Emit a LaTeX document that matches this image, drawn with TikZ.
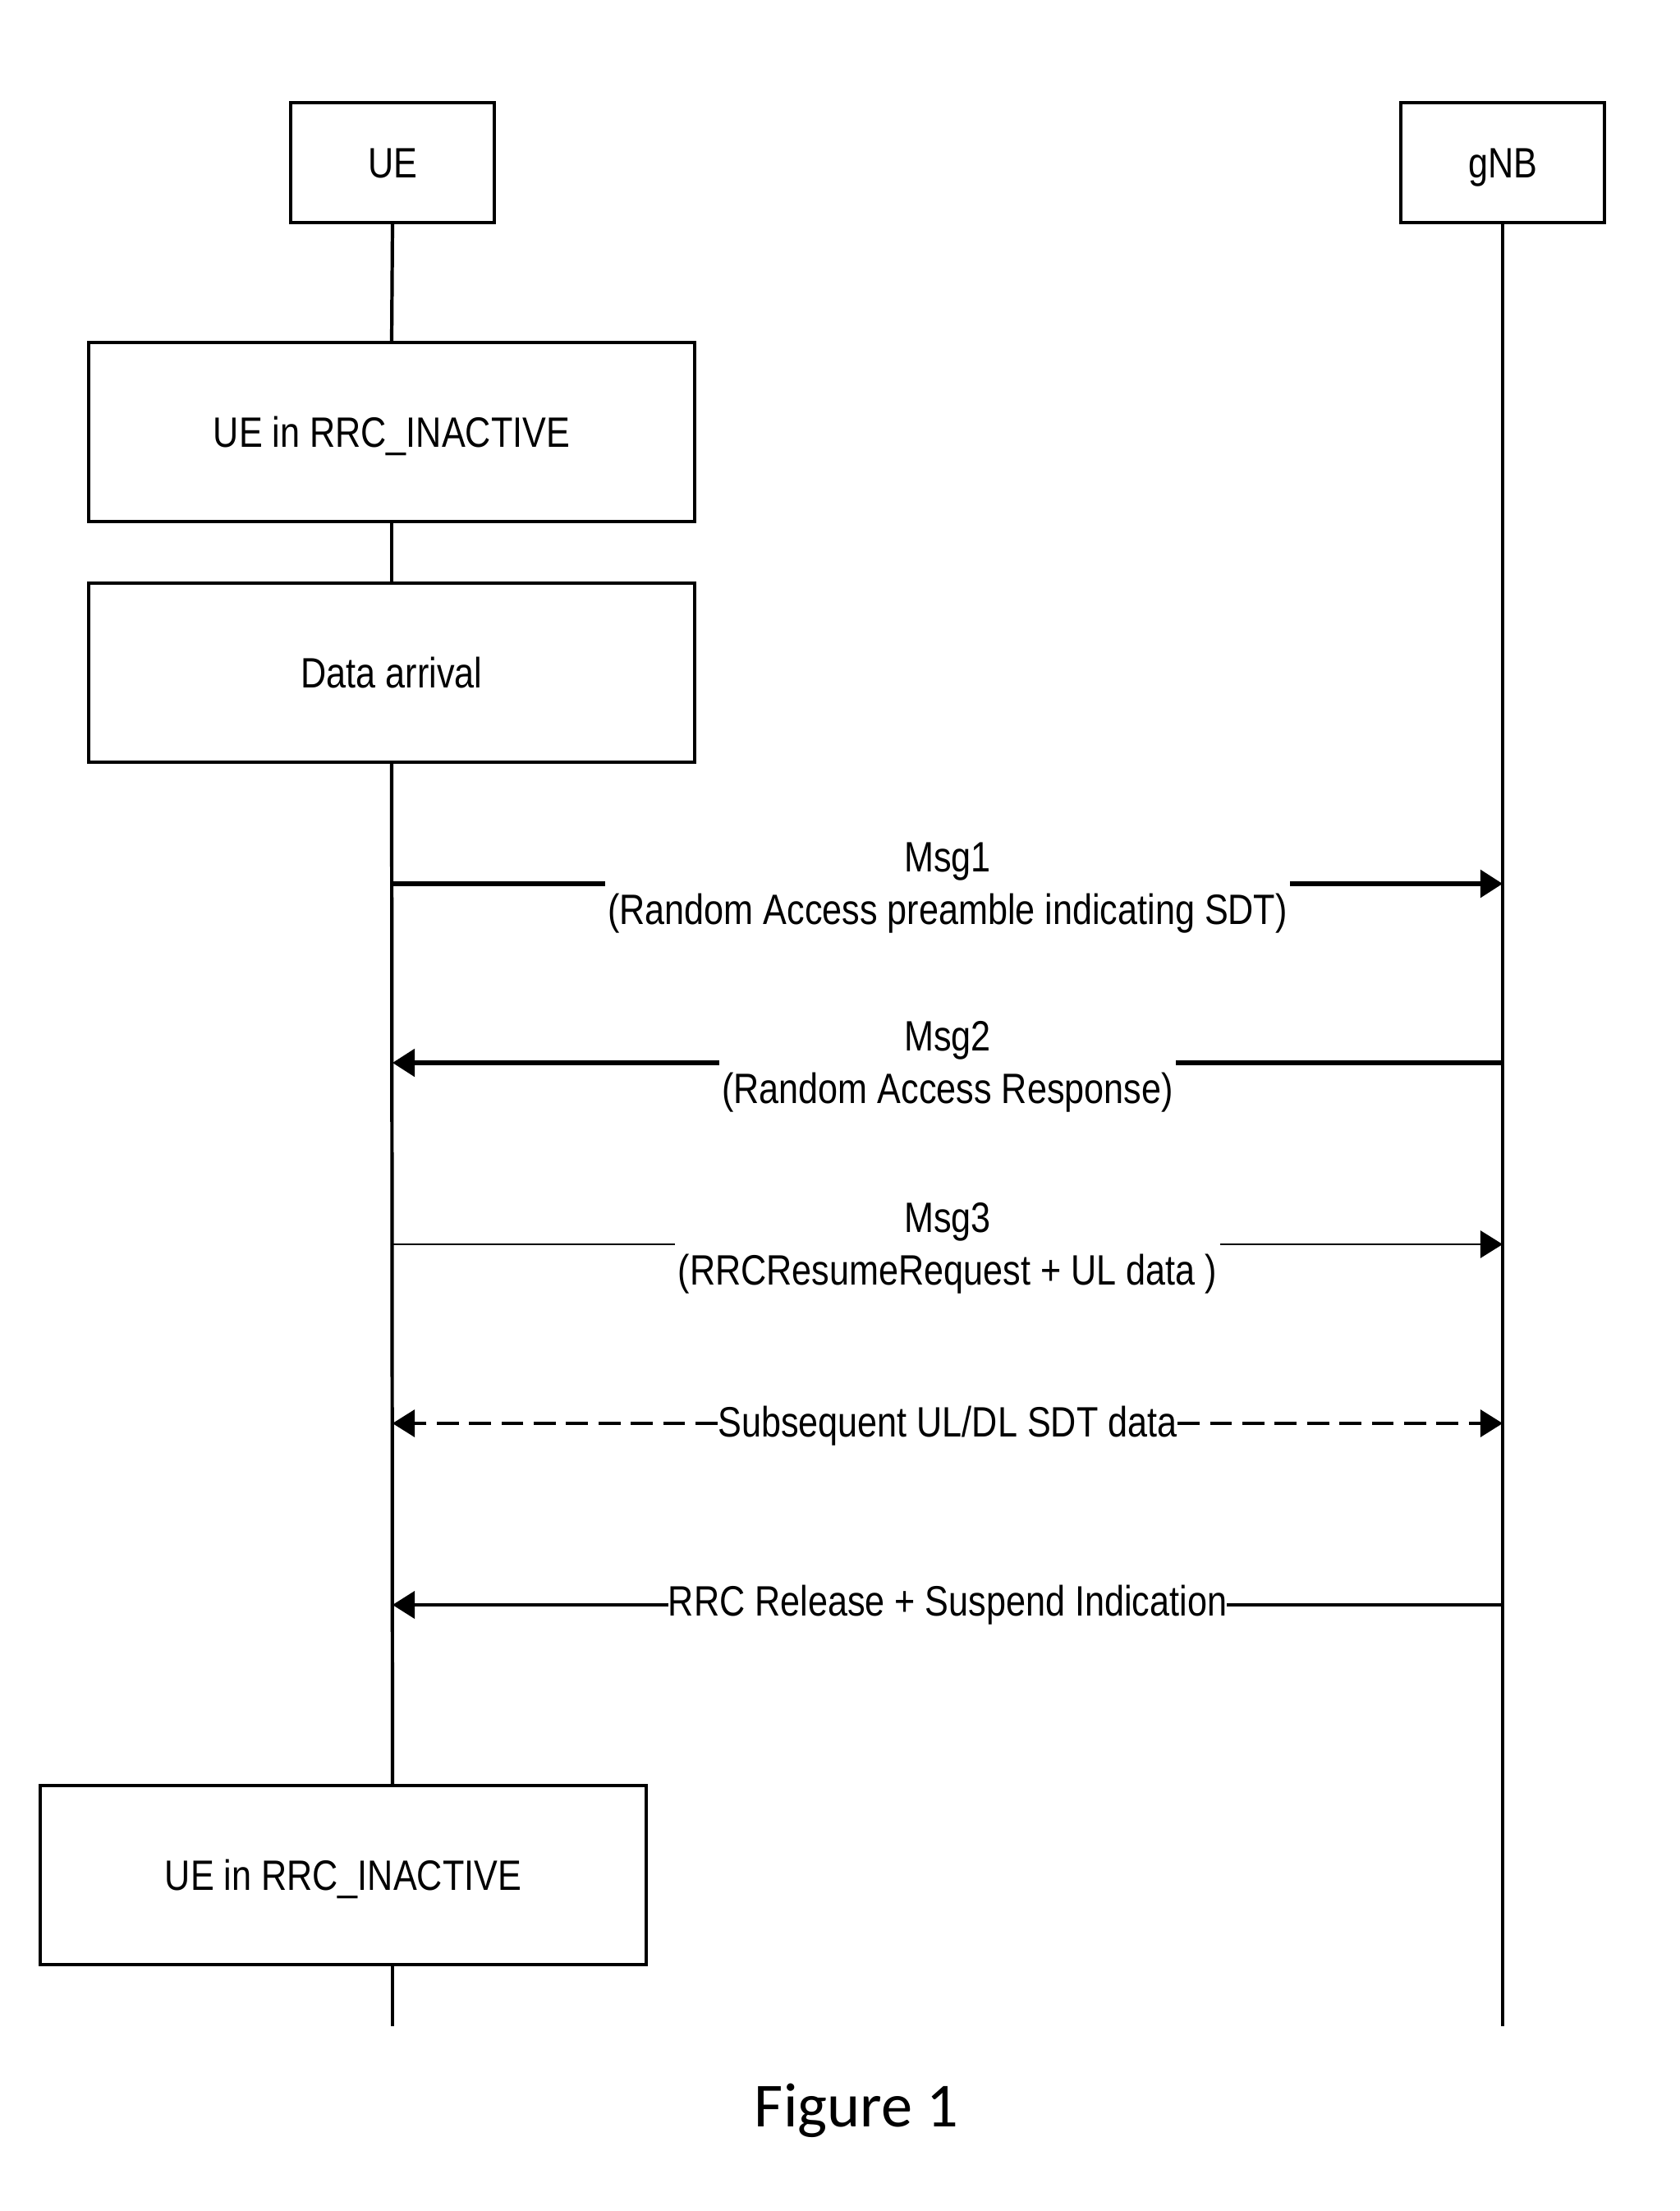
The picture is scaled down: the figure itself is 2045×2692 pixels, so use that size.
\documentclass[tikz,border=0pt]{standalone}
\usepackage{fontspec}
\setmainfont{Liberation Sans}[FakeStretch=0.835]
\newfontfamily\figfont{Carlito}
\usetikzlibrary{arrows.meta}
\begin{document}
\begin{tikzpicture}[x=0.01cm,y=-0.01cm,
  every node/.style={font=\fontsize{14.7}{18.2}\selectfont},
  actor/.style={draw,line width=1.15pt,fill=white,minimum width=2.47cm,minimum height=1.46cm,inner sep=0pt,text height=10.6pt,text depth=0pt},
  state/.style={draw,line width=1.15pt,fill=white,minimum width=7.38cm,minimum height=2.18cm,inner sep=0pt,text height=10.6pt,text depth=0pt},
  life/.style={line width=1.2pt},
  msgthick/.style={line width=1.55pt},
  msgthin/.style={line width=0.8pt},
  msgdash/.style={line width=0.95pt,dash pattern=on 7.6pt off 3.6pt},
  msgmid/.style={line width=1.15pt},
  lbl/.style={fill=white,inner xsep=1pt,inner ysep=0pt,align=center},
  lbltwo/.style={lbl,yshift=-0.05cm},
  tipa/.style={-{Triangle[length=7.7pt,width=9.4pt]}}
]
\useasboundingbox (0,0) rectangle (2045,2692);
\fill[white] (0,0) rectangle (2045,2692);

% actors and states
\node[actor] (ue) at (478,198) {UE};
\node[actor] (gnb) at (1830,198) {gNB};
\node[state] (s1) at (477,526) {UE in RRC\_INACTIVE};
\node[state] (s2) at (477,819) {Data arrival};
\node[state] (s3) at (418,2283) {UE in RRC\_INACTIVE};

\coordinate (ueend) at (478,2467);
\coordinate (gnbend) at (1830,2467);

% lifelines
\draw[life] (ue.south) -- (s1.north);
\draw[life] (s1.south) -- (s2.north);
\draw[life] (s2.south) -- (ue.south |- s3.north);
\draw[life] (ue.south |- s3.south) -- (ueend);
\draw[life] (gnb.south) -- (gnbend);

% message coordinates
\coordinate (u1) at (478,1076);  \coordinate (g1) at (1830,1076);
\coordinate (u2) at (478,1294);  \coordinate (g2) at (1830,1294);
\coordinate (u3) at (478,1515);  \coordinate (g3) at (1830,1515);
\coordinate (u4) at (478,1733);  \coordinate (g4) at (1830,1733);
\coordinate (u5) at (478,1954);  \coordinate (g5) at (1830,1954);

% messages
\draw[msgthick,tipa] (u1) -- node[lbltwo] {Msg1\\(Random Access preamble indicating SDT)} (g1);
\draw[msgthick,tipa] (g2) -- node[lbltwo] {Msg2\\(Random Access Response)} (u2);
\draw[msgthin,tipa] (u3) -- node[lbltwo] {Msg3\\(RRCResumeRequest + UL data )} (g3);

\node[lbl,inner xsep=0pt] (sdt) at (1154,1736) {Subsequent UL/DL SDT data};
\draw[msgdash,tipa] (sdt.west |- u4) -- (u4);
\draw[msgdash,tipa] (sdt.east |- g4) -- (g4);

\draw[msgmid,tipa] (g5) -- node[lbl,inner xsep=0pt] {RRC Release + Suspend Indication} (u5);

% caption
\node[anchor=base,font=\figfont\fontsize{21.7}{26}\selectfont] (cap) at (1043,2589) {Figure 1};
\end{tikzpicture}
\end{document}
